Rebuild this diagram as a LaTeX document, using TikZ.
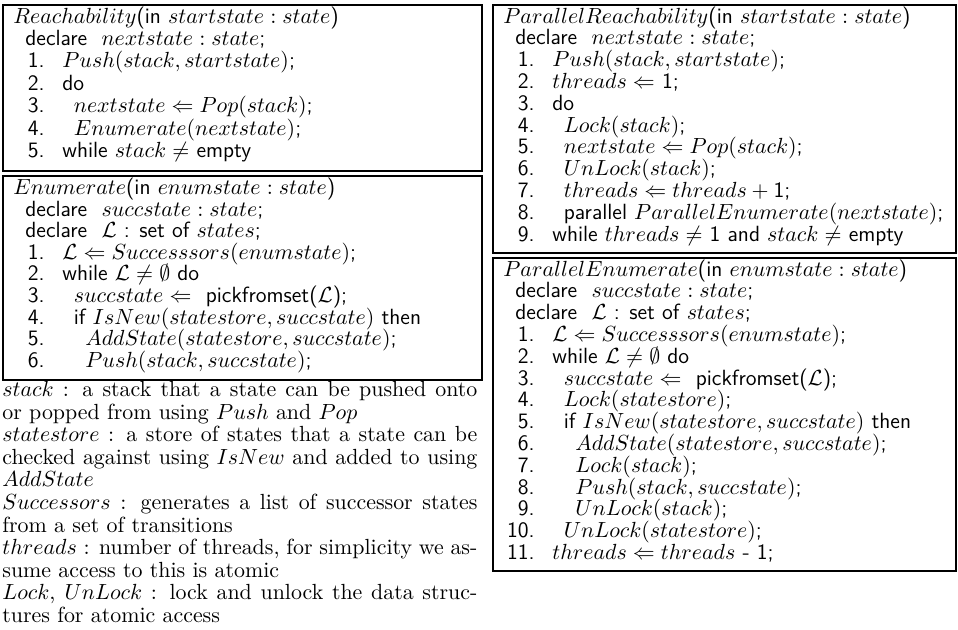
\documentclass[tikz,border=0pt]{standalone}
\usepackage{amssymb}
\begin{document}
\begin{tikzpicture}[x=1pt,y=1pt]
  % Define styles for boxes, code lines and legend lines
  \tikzset{
    algo box/.style={draw, line width=1pt},
    head line/.style={anchor=base west, inner sep=0pt, font=\fontsize{11}{11}\selectfont\sffamily},
    code line/.style={anchor=base west, inner sep=0pt, font=\fontsize{11}{11}\selectfont\sffamily},
    line num/.style={anchor=base east, inner sep=0pt, font=\fontsize{11}{11}\selectfont\sffamily},
    legend line/.style={anchor=base west, inner sep=0pt, font=\fontsize{10.95}{11.45}\selectfont}
  }
  \newcommand{\fullline}[1]{\makebox[237.5pt][s]{#1}}
  \useasboundingbox (0,0) rectangle (479,-314.5);

  % Reachability
  \draw[algo box] (1.5,-2.5) rectangle (241,-85.7);
  \node[head line] (r1t) at (6.5,-11.5) {$Reachability$(in $startstate : state$)};
  \node[head line] (r1d) at (12.5,-22.7) {declare~~$nextstate : state$;};
  \node[line num] (r1n1) at (22.5,-33.9) {1.};
  \node[code line] (r1c1) at (31,-33.9) {$Push(stack, startstate)$;};
  \node[line num] (r1n2) at (22.5,-45.1) {2.};
  \node[code line] (r1c2) at (31,-45.1) {do};
  \node[line num] (r1n3) at (22.5,-56.3) {3.};
  \node[code line] (r1c3) at (36.75,-56.3) {$nextstate \Leftarrow Pop(stack)$;};
  \node[line num] (r1n4) at (22.5,-67.5) {4.};
  \node[code line] (r1c4) at (36.75,-67.5) {$Enumerate(nextstate)$;};
  \node[line num] (r1n5) at (22.5,-78.7) {5.};
  \node[code line] (r1c5) at (31,-78.7) {while $stack \neq$ empty};

  % Enumerate
  \draw[algo box] (1.5,-88.2) rectangle (241,-190);
  \node[head line] (ent) at (6.5,-97.2) {$Enumerate$(in $enumstate : state$)};
  \node[head line] (end1) at (12.5,-108.0) {declare~~$succstate : state$;};
  \node[head line] (end2) at (12.5,-118.8) {declare~~$\mathcal{L}$ : set of $states$;};
  \node[line num] (enn1) at (22.5,-129.6) {1.};
  \node[code line] (enc1) at (31,-129.6) {$\mathcal{L} \Leftarrow Successsors(enumstate)$;};
  \node[line num] (enn2) at (22.5,-140.4) {2.};
  \node[code line] (enc2) at (31,-140.4) {while $\mathcal{L} \neq \emptyset$ do};
  \node[line num] (enn3) at (22.5,-151.2) {3.};
  \node[code line] (enc3) at (36.75,-151.2) {$succstate \Leftarrow$~ pickfromset($\mathcal{L}$);};
  \node[line num] (enn4) at (22.5,-162.0) {4.};
  \node[code line] (enc4) at (36.75,-162.0) {if $IsNew(statestore, succstate)$ then};
  \node[line num] (enn5) at (22.5,-172.8) {5.};
  \node[code line] (enc5) at (42.5,-172.8) {$AddState(statestore, succstate)$;};
  \node[line num] (enn6) at (22.5,-183.6) {6.};
  \node[code line] (enc6) at (42.5,-183.6) {$Push(stack, succstate)$;};

  % Legend
  \node[legend line] (lg1) at (1,-198.2) {\fullline{$stack$ : a stack that a state can be pushed onto}};
  \node[legend line] (lg2) at (1,-209.5) {or popped from using $Push$ and $Pop$};
  \node[legend line] (lg3) at (1,-220.8) {\fullline{$statestore$ : a store of states that a state can be}};
  \node[legend line] (lg4) at (1,-232.1) {\fullline{checked against using $IsNew$ and added to using}};
  \node[legend line] (lg5) at (1,-243.4) {$AddState$};
  \node[legend line] (lg6) at (1,-254.7) {\fullline{$Successors$ : generates a list of successor states}};
  \node[legend line] (lg7) at (1,-266.0) {from a set of transitions};
  \node[legend line] (lg8) at (1,-277.3) {\fullline{$threads$ : number of threads, for simplicity we as-}};
  \node[legend line] (lg9) at (1,-288.6) {sume access to this is atomic};
  \node[legend line] (lg10) at (1,-299.9) {\fullline{$Lock$, $UnLock$ : lock and unlock the data struc-}};
  \node[legend line] (lg11) at (1,-311.2) {tures for atomic access};

  % ParallelReachability
  \draw[algo box] (246.5,-2.5) rectangle (478,-126.5);
  \node[head line] (prt) at (251.5,-11.5) {$ParallelReachability$(in $startstate : state$)};
  \node[head line] (prd) at (257.5,-22.4) {declare~~$nextstate : state$;};
  \node[line num] (prn1) at (267.5,-33.3) {1.};
  \node[code line] (prc1) at (276,-33.3) {$Push(stack, startstate)$;};
  \node[line num] (prn2) at (267.5,-44.2) {2.};
  \node[code line] (prc2) at (276,-44.2) {$threads \Leftarrow$ 1;};
  \node[line num] (prn3) at (267.5,-55.1) {3.};
  \node[code line] (prc3) at (276,-55.1) {do};
  \node[line num] (prn4) at (267.5,-66.0) {4.};
  \node[code line] (prc4) at (281.75,-66.0) {$Lock(stack)$;};
  \node[line num] (prn5) at (267.5,-76.9) {5.};
  \node[code line] (prc5) at (281.75,-76.9) {$nextstate \Leftarrow Pop(stack)$;};
  \node[line num] (prn6) at (267.5,-87.8) {6.};
  \node[code line] (prc6) at (281.75,-87.8) {$UnLock(stack)$;};
  \node[line num] (prn7) at (267.5,-98.7) {7.};
  \node[code line] (prc7) at (281.75,-98.7) {$threads \Leftarrow threads + {}$1;};
  \node[line num] (prn8) at (267.5,-109.6) {8.};
  \node[code line] (prc8) at (281.75,-109.6) {parallel $ParallelEnumerate(nextstate)$;};
  \node[line num] (prn9) at (267.5,-120.5) {9.};
  \node[code line] (prc9) at (276,-120.5) {while $threads \neq$ 1 and $stack \neq$ empty};

  % ParallelEnumerate
  \draw[algo box] (246.5,-129) rectangle (478,-285.7);
  \node[head line] (pet) at (251.5,-138.0) {$ParallelEnumerate$(in $enumstate : state$)};
  \node[head line] (ped1) at (257.5,-148.9) {declare~~$succstate : state$;};
  \node[head line] (ped2) at (257.5,-159.8) {declare~~$\mathcal{L}$ : set of $states$;};
  \node[line num] (pen1) at (267.5,-170.7) {1.};
  \node[code line] (pec1) at (276,-170.7) {$\mathcal{L} \Leftarrow Successsors(enumstate)$;};
  \node[line num] (pen2) at (267.5,-181.6) {2.};
  \node[code line] (pec2) at (276,-181.6) {while $\mathcal{L} \neq \emptyset$ do};
  \node[line num] (pen3) at (267.5,-192.5) {3.};
  \node[code line] (pec3) at (281.75,-192.5) {$succstate \Leftarrow$~ pickfromset($\mathcal{L}$);};
  \node[line num] (pen4) at (267.5,-203.4) {4.};
  \node[code line] (pec4) at (281.75,-203.4) {$Lock(statestore)$;};
  \node[line num] (pen5) at (267.5,-214.3) {5.};
  \node[code line] (pec5) at (281.75,-214.3) {if $IsNew(statestore, succstate)$ then};
  \node[line num] (pen6) at (267.5,-225.2) {6.};
  \node[code line] (pec6) at (287.5,-225.2) {$AddState(statestore, succstate)$;};
  \node[line num] (pen7) at (267.5,-236.1) {7.};
  \node[code line] (pec7) at (287.5,-236.1) {$Lock(stack)$;};
  \node[line num] (pen8) at (267.5,-247.0) {8.};
  \node[code line] (pec8) at (287.5,-247.0) {$Push(stack, succstate)$;};
  \node[line num] (pen9) at (267.5,-257.9) {9.};
  \node[code line] (pec9) at (287.5,-257.9) {$UnLock(stack)$;};
  \node[line num] (pen10) at (267.5,-268.8) {10.};
  \node[code line] (pec10) at (281.75,-268.8) {$UnLock(statestore)$;};
  \node[line num] (pen11) at (267.5,-279.7) {11.};
  \node[code line] (pec11) at (276,-279.7) {$threads \Leftarrow threads$ - 1;};
\end{tikzpicture}
\end{document}
